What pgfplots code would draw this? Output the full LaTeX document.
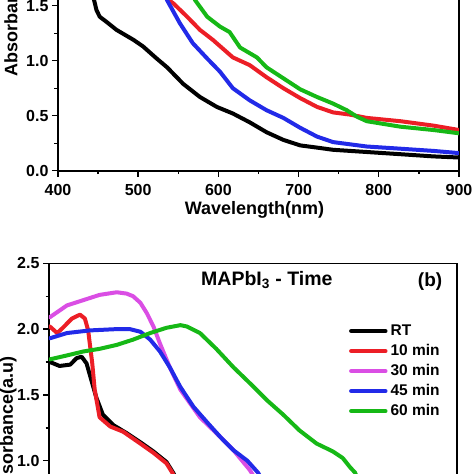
\documentclass[border=0pt]{standalone}
\usepackage{pgfplots}
\pgfplotsset{compat=1.18}
\usepackage{fontspec}
\setmainfont{Liberation Sans}
\definecolor{cRed}{RGB}{236,30,38}
\definecolor{cPink}{RGB}{218,78,228}
\definecolor{cBlue}{RGB}{34,42,232}
\definecolor{cGreen}{RGB}{22,184,22}
\pgfplotsset{
  common/.style={
    scale only axis, xmin=400, xmax=900,
    axis line style={line width=1.6pt},
    tick align=outside, xtick pos=bottom, ytick pos=left,
    major tick length=6pt, minor tick length=3.5pt,
    tick style={black, line width=1.4pt},
    minor x tick num=1, minor y tick num=1,
    xtick={400,500,...,900},
    tick label style={font=\fontsize{16}{19}\selectfont\bfseries},
    x tick label style={yshift=-4pt},
    /pgf/number format/assume math mode=true,
    y tick label style={/pgf/number format/fixed, /pgf/number format/fixed zerofill, /pgf/number format/precision=1},
    label style={font=\fontsize{18}{21}\selectfont\bfseries},
    every axis plot/.append style={line width=4pt, line join=round, line cap=round},
  }
}
\begin{document}
\begin{tikzpicture}
\path[use as bounding box] (0pt,0pt) rectangle (474pt,-474pt);
\clip (0pt,0pt) rectangle (474pt,-474pt);
% ---------- top panel ----------
\begin{axis}[common,
  at={(58pt,-170.7pt)}, anchor=south west,
  width=401pt, height=330pt,
  ymin=0, ymax=3, ytick={0,0.5,...,3},
  xlabel={Wavelength(nm)}, ylabel={Absorbance(a.u)},
  xlabel style={at={(axis description cs:0.49,-0.118)}, anchor=center},
  ylabel style={at={(axis description cs:-0.113,0.5)}, anchor=center, rotate=0},
]
\addplot[black] coordinates {(428,2.4) (438,1.9) (444,1.58) (448,1.46) (452,1.40) (461,1.35) (473,1.28) (494,1.19) (506,1.13) (523,1.02) (536,0.94) (556,0.79) (577,0.67) (598,0.58) (618,0.52) (639,0.44) (660,0.35) (681,0.28) (702,0.23) (723,0.21) (743,0.19) (785,0.17) (827,0.15) (868,0.13) (900,0.12)};
\addplot[cRed] coordinates {(515,1.9) (533,1.58) (544,1.52) (561,1.40) (577,1.28) (593,1.19) (618,1.03) (639,0.96) (660,0.85) (681,0.75) (702,0.66) (723,0.58) (743,0.53) (764,0.51) (785,0.48) (827,0.45) (868,0.41) (900,0.37)};
\addplot[cBlue] coordinates {(520,1.85) (536,1.55) (552,1.34) (568,1.16) (586,1.02) (602,0.90) (618,0.75) (639,0.64) (660,0.55) (681,0.48) (702,0.39) (723,0.31) (743,0.26) (764,0.24) (785,0.22) (827,0.20) (868,0.18) (900,0.16)};
\addplot[cGreen] coordinates {(555,1.8) (571,1.55) (586,1.40) (602,1.31) (614,1.26) (627,1.12) (648,1.03) (660,0.94) (681,0.84) (702,0.74) (723,0.67) (743,0.61) (760,0.55) (773,0.49) (785,0.45) (827,0.40) (868,0.37) (900,0.34)};
\end{axis}
% ---------- bottom panel ----------
\begin{axis}[common,
  at={(49pt,-592.3pt)}, anchor=south west,
  width=408pt, height=329pt,
  ymin=0, ymax=2.5, ytick={0,0.5,...,2.5},
  ylabel={Absorbance(a.u)},
  ylabel style={at={(axis description cs:-0.1,0.5)}, anchor=center},
  legend style={at={(axis description cs:0.735,0.825)}, anchor=north west, draw=none, fill=none,
    font=\fontsize{15.5}{18}\selectfont\bfseries, inner sep=0pt,
    nodes={text height=11pt, text depth=3pt, inner sep=3pt}},
  legend cell align=left,
  legend image code/.code={\draw[#1, line width=4.5pt, line cap=round] (0pt,0pt) -- (34pt,0pt);},
]
\addplot[black] coordinates {(401,1.75) (413,1.72) (426,1.73) (434,1.78) (440,1.79) (446,1.74) (452,1.61) (458,1.48) (466,1.35) (479,1.27) (495,1.21) (512,1.14) (528,1.07) (544,0.99) (552,0.91) (560,0.82)};
\addlegendentry{RT}
\addplot[cRed] coordinates {(401,2.02) (410,1.97) (417,2.01) (428,2.08) (438,2.11) (444,2.08) (448,1.99) (453,1.74) (456,1.54) (462,1.33) (475,1.26) (491,1.22) (512,1.13) (528,1.06) (544,0.98) (551,0.91) (558,0.82)};
\addlegendentry{10 min}
\addplot[cPink] coordinates {(401,2.09) (422,2.18) (442,2.22) (462,2.26) (483,2.28) (495,2.27) (503,2.25) (512,2.20) (520,2.12) (528,2.02) (536,1.89) (548,1.71) (561,1.54) (585,1.33) (605,1.21) (626,1.08) (646,0.93) (655,0.84)};
\addlegendentry{30 min}
\addplot[cBlue] coordinates {(401,1.93) (422,1.97) (450,1.99) (483,2.00) (499,2.00) (512,1.98) (524,1.92) (536,1.83) (548,1.71) (561,1.56) (577,1.41) (594,1.29) (610,1.18) (626,1.08) (643,1.00) (656,0.91) (664,0.83)};
\addlegendentry{45 min}
\addplot[cGreen] coordinates {(401,1.77) (422,1.80) (442,1.83) (462,1.85) (483,1.88) (503,1.92) (524,1.97) (544,2.01) (561,2.03) (569,2.02) (585,1.97) (605,1.85) (626,1.71) (646,1.59) (667,1.46) (687,1.35) (707,1.23) (728,1.13) (748,1.07) (760,1.02) (769,0.95) (775,0.91) (781,0.82)};
\addlegendentry{60 min}
\node[font=\fontsize{19.5}{22}\selectfont\bfseries, anchor=center] at (axis description cs:0.534,0.949) {MAPbI$_\mathbf{3}$ - Time};
\node[font=\fontsize{19}{22}\selectfont\bfseries, anchor=center] at (axis description cs:0.934,0.943) {(b)};
\end{axis}
\end{tikzpicture}
\end{document}
